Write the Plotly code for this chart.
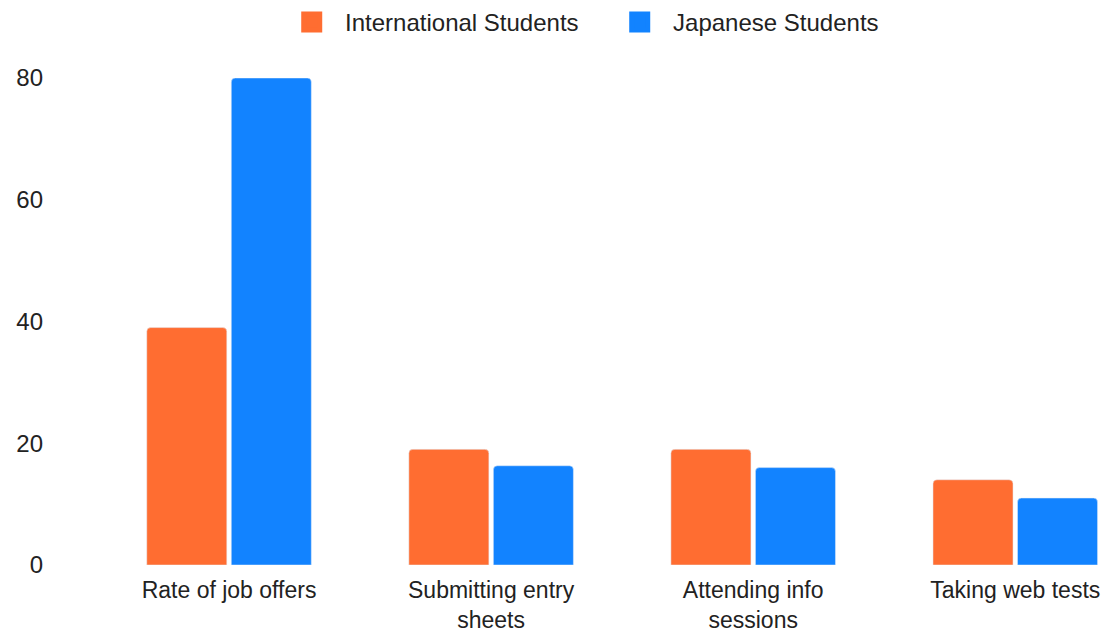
import plotly.graph_objects as go

categories = ["Rate of job offers", "Submitting entry<br>sheets", "Attending info<br>sessions", "Taking web tests"]
international = [39, 19, 19, 14]
japanese = [80, 16.3, 16, 11]
series_names = ["International Students", "Japanese Students"]
colors = ["#FF6D31", "#1283FF"]
y_ticks = [0, 20, 40, 60, 80]

FONT = "Liberation Sans, Arial, sans-serif"
NB = "\u00a0\u00a0"

fig = go.Figure()
for name, vals, col in zip(series_names, [international, japanese], colors):
    fig.add_trace(go.Bar(x=categories, y=vals, name=name, marker=dict(color=col, cornerradius=4),
                         showlegend=False, hoverinfo="x+y"))
    fig.add_trace(go.Scatter(x=[None], y=[None], mode="markers", name=NB + name,
                             marker=dict(symbol="square", size=16, color=col, line=dict(color=col, width=5))))

fig.update_layout(
    width=1113, height=632,
    margin=dict(l=98, r=6, t=78, b=67, autoexpand=False),
    paper_bgcolor="white", plot_bgcolor="white",
    font=dict(family=FONT, size=24, color="#222222"),
    barmode="group", bargap=0.355, bargroupgap=0.053,
    legend=dict(orientation="h", x=0.192, xanchor="left", y=1, yref="container", yanchor="top",
                font=dict(size=24, color="#222222"), itemsizing="trace",
                entrywidth=283, entrywidthmode="pixels"),
    xaxis=dict(range=[-0.5, 3.35], showgrid=False, zeroline=False, showline=False, ticks="",
               ticklabelstandoff=9, automargin=False, tickfont=dict(size=23)),
    yaxis=dict(range=[0, 80], tickvals=y_ticks, showgrid=False, zeroline=False, showline=False,
               ticks="", ticklabelstandoff=54, automargin=False),
)

fig.write_html("out.html")
